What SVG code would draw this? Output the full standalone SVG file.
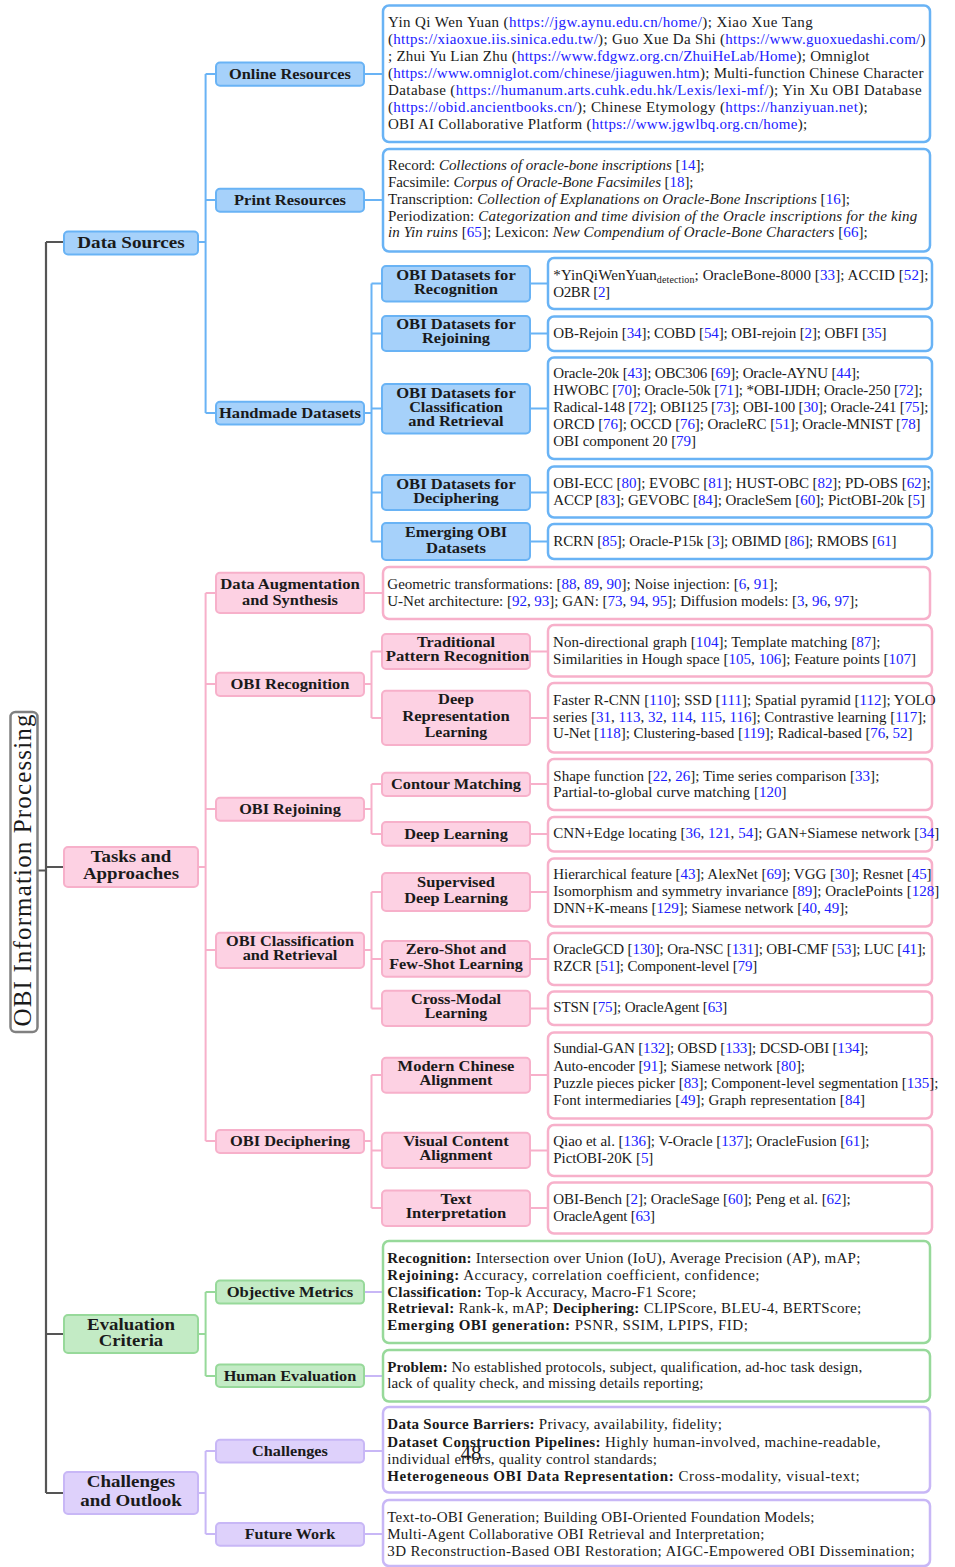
<svg xmlns="http://www.w3.org/2000/svg" width="955" height="1567" viewBox="0 0 955 1567">
<style>
text{font-family:"Liberation Serif","Times New Roman",serif;fill:#1a1a1a}
.lf{font-size:15px}
.u{fill:#2020ff}
.it{font-style:italic}
.bd{font-weight:bold}
.sb{font-size:10px}
.n1{font-size:17px;font-weight:bold;text-anchor:middle}
.n2{font-size:15px;font-weight:bold;text-anchor:middle}
.rt{font-size:25px;text-anchor:middle}
.pg{font-size:21px;text-anchor:middle}
.bN{fill:#a6d1fa;stroke:#69b3f5;stroke-width:2}
.bL{fill:#fff;stroke:#69b3f5;stroke-width:2.5}
.pN{fill:#fdd1e3;stroke:#f7b0ca;stroke-width:2}
.pL{fill:#fff;stroke:#f7b0ca;stroke-width:2.5}
.gN{fill:#c3ebc5;stroke:#97d99a;stroke-width:2}
.gL{fill:#fff;stroke:#97d99a;stroke-width:2.5}
.vN{fill:#ded1fb;stroke:#c8b7f6;stroke-width:2}
.vL{fill:#fff;stroke:#c8b7f6;stroke-width:2.5}
.cb{stroke:#69b3f5}
.cp{stroke:#f7b0ca}
.cg{stroke:#97d99a}
.cv{stroke:#c8b7f6}
</style>

<g id="connectors" fill="none" stroke-width="2">
<path stroke="#555" stroke-width="2.2" d="M37,870.5H46 M46,242V1493 M46,242H64 M46,867H64 M46,1334H64 M46,1493H64"/>
<path class="cb" d="M198,242H205.6 M205.6,74V413 M205.6,74H216 M205.6,200H216 M205.6,413H216 M364,74H383 M364,200H383 M364,413H371.5 M371.5,283.5V541.5 M371.5,283.5H382 M371.5,333.5H382 M371.5,408.5H382 M371.5,492.5H382 M371.5,541.5H382 M530,283.5H548 M530,333.5H548 M530,408.5H548 M530,492.5H548 M530,541.5H548"/>
<path class="cp" d="M198,867H205.6 M205.6,593V1141 M205.6,593H216 M205.6,684H216 M205.6,809H216 M205.6,950H216 M205.6,1141H216 M364,593H383 M364,684H371.5 M371.5,651.5V718 M371.5,651.5H382 M371.5,718H382 M530,651.5H548 M530,718H548 M364,809H371.5 M371.5,784V834 M371.5,784H382 M371.5,834H382 M530,784H548 M530,834H548 M364,950H371.5 M371.5,892V1008.5 M371.5,892H382 M371.5,959H382 M371.5,1008.5H382 M530,892H548 M530,959H548 M530,1008.5H548 M364,1141H371.5 M371.5,1075V1208 M371.5,1075H382 M371.5,1150.5H382 M371.5,1208H382 M530,1075H548 M530,1150.5H548 M530,1208H548"/>
<path class="cg" d="M198,1334H205.6 M205.6,1292V1376 M205.6,1292H216 M205.6,1376H216"/>
<path class="cv" d="M364,1292H383 M364,1376H383 M198,1493H205.6 M205.6,1451V1534 M205.6,1451H216 M205.6,1534H216 M364,1451H383 M364,1534H383"/>
</g>

<g id="root">
<rect x="10.5" y="712" width="27" height="320" rx="5" fill="#fff" stroke="#808080" stroke-width="2.5"/>
<text class="rt" transform="translate(24,870.5) rotate(-90)" y="7" textLength="312">OBI Information Processing</text>
</g>

<!-- Level 1 -->
<g id="data-sources"><rect class="bN" x="64" y="231.5" width="134" height="23" rx="4"/><text class="n1" x="131" y="248" textLength="107.5" lengthAdjust="spacingAndGlyphs">Data Sources</text></g>
<g id="tasks"><rect class="pN" x="64" y="847" width="134" height="40" rx="4"/><text class="n1" x="131" y="862" textLength="80.6" lengthAdjust="spacingAndGlyphs">Tasks and</text><text class="n1" x="131" y="879" textLength="96" lengthAdjust="spacingAndGlyphs">Approaches</text></g>
<g id="evaluation"><rect class="gN" x="64" y="1315" width="134" height="38" rx="4"/><text class="n1" x="131" y="1329.5" textLength="87.8" lengthAdjust="spacingAndGlyphs">Evaluation</text><text class="n1" x="131" y="1346" textLength="64.4" lengthAdjust="spacingAndGlyphs">Criteria</text></g>
<g id="challenges-outlook"><rect class="vN" x="64" y="1472" width="134" height="42" rx="4"/><text class="n1" x="131" y="1487" textLength="88.5" lengthAdjust="spacingAndGlyphs">Challenges</text><text class="n1" x="131" y="1506" textLength="101.6" lengthAdjust="spacingAndGlyphs">and Outlook</text></g>

<!-- Level 2 -->
<g id="online-resources"><rect class="bN" x="216" y="62.5" width="148" height="23.3" rx="4"/><text class="n2" x="290" y="79" textLength="122" lengthAdjust="spacingAndGlyphs">Online Resources</text></g>
<g id="print-resources"><rect class="bN" x="216" y="188.7" width="148" height="23" rx="4"/><text class="n2" x="290" y="205" textLength="112" lengthAdjust="spacingAndGlyphs">Print Resources</text></g>
<g id="handmade-datasets"><rect class="bN" x="216" y="401.8" width="148" height="22.6" rx="4"/><text class="n2" x="290" y="418" textLength="142" lengthAdjust="spacingAndGlyphs">Handmade Datasets</text></g>
<g id="data-augmentation"><rect class="pN" x="216" y="572.7" width="148" height="40.3" rx="4"/><text class="n2" x="290" y="588.5" textLength="139.5" lengthAdjust="spacingAndGlyphs">Data Augmentation</text><text class="n2" x="290" y="605" textLength="96" lengthAdjust="spacingAndGlyphs">and Synthesis</text></g>
<g id="obi-recognition"><rect class="pN" x="216" y="672.7" width="148" height="23.3" rx="4"/><text class="n2" x="290" y="689" textLength="119" lengthAdjust="spacingAndGlyphs">OBI Recognition</text></g>
<g id="obi-rejoining"><rect class="pN" x="216" y="797.7" width="148" height="23" rx="4"/><text class="n2" x="290" y="814" textLength="101.6" lengthAdjust="spacingAndGlyphs">OBI Rejoining</text></g>
<g id="obi-classification"><rect class="pN" x="216" y="932.7" width="148" height="35.3" rx="4"/><text class="n2" x="290" y="946" textLength="128" lengthAdjust="spacingAndGlyphs">OBI Classification</text><text class="n2" x="290" y="960" textLength="94.7" lengthAdjust="spacingAndGlyphs">and Retrieval</text></g>
<g id="obi-deciphering"><rect class="pN" x="216" y="1130" width="148" height="23" rx="4"/><text class="n2" x="290" y="1146" textLength="120" lengthAdjust="spacingAndGlyphs">OBI Deciphering</text></g>
<g id="objective-metrics"><rect class="gN" x="216" y="1280.6" width="148" height="23" rx="4"/><text class="n2" x="290" y="1297" textLength="126.7" lengthAdjust="spacingAndGlyphs">Objective Metrics</text></g>
<g id="human-evaluation"><rect class="gN" x="216" y="1364.4" width="148" height="22.6" rx="4"/><text class="n2" x="290" y="1381" textLength="132.6" lengthAdjust="spacingAndGlyphs">Human Evaluation</text></g>
<g id="challenges"><rect class="vN" x="216" y="1439.7" width="148" height="22.7" rx="4"/><text class="n2" x="290" y="1456" textLength="75.8" lengthAdjust="spacingAndGlyphs">Challenges</text></g>
<g id="future-work"><rect class="vN" x="216" y="1523" width="148" height="22.8" rx="4"/><text class="n2" x="290" y="1539" textLength="90.6" lengthAdjust="spacingAndGlyphs">Future Work</text></g>

<!-- Level 3 -->
<g id="ds-recognition"><rect class="bN" x="382" y="266" width="148" height="35.5" rx="4"/><text class="n2" x="456" y="280" textLength="119.5" lengthAdjust="spacingAndGlyphs">OBI Datasets for</text><text class="n2" x="456" y="294" textLength="84" lengthAdjust="spacingAndGlyphs">Recognition</text></g>
<g id="ds-rejoining"><rect class="bN" x="382" y="316" width="148" height="35" rx="4"/><text class="n2" x="456" y="329" textLength="119.5" lengthAdjust="spacingAndGlyphs">OBI Datasets for</text><text class="n2" x="456" y="343" textLength="68" lengthAdjust="spacingAndGlyphs">Rejoining</text></g>
<g id="ds-classification"><rect class="bN" x="382" y="384" width="148" height="49.5" rx="4"/><text class="n2" x="456" y="397.5" textLength="119.5" lengthAdjust="spacingAndGlyphs">OBI Datasets for</text><text class="n2" x="456" y="411.5" textLength="93.7" lengthAdjust="spacingAndGlyphs">Classification</text><text class="n2" x="456" y="425.5" textLength="95.4" lengthAdjust="spacingAndGlyphs">and Retrieval</text></g>
<g id="ds-deciphering"><rect class="bN" x="382" y="475" width="148" height="35" rx="4"/><text class="n2" x="456" y="488.5" textLength="119.5" lengthAdjust="spacingAndGlyphs">OBI Datasets for</text><text class="n2" x="456" y="502.5" textLength="85.4" lengthAdjust="spacingAndGlyphs">Deciphering</text></g>
<g id="ds-emerging"><rect class="bN" x="382" y="523" width="148" height="37" rx="4"/><text class="n2" x="456" y="536.5" textLength="102" lengthAdjust="spacingAndGlyphs">Emerging OBI</text><text class="n2" x="456" y="553" textLength="60" lengthAdjust="spacingAndGlyphs">Datasets</text></g>
<g id="rec-traditional"><rect class="pN" x="382" y="634" width="148" height="35" rx="4"/><text class="n2" x="456" y="647" textLength="78" lengthAdjust="spacingAndGlyphs">Traditional</text><text class="n2" x="457.5" y="661" textLength="143.6" lengthAdjust="spacingAndGlyphs">Pattern Recognition</text></g>
<g id="rec-deep"><rect class="pN" x="382" y="690.7" width="148" height="54.3" rx="4"/><text class="n2" x="456" y="704" textLength="35.8" lengthAdjust="spacingAndGlyphs">Deep</text><text class="n2" x="456" y="720.5" textLength="107.4" lengthAdjust="spacingAndGlyphs">Representation</text><text class="n2" x="456" y="737" textLength="62.3" lengthAdjust="spacingAndGlyphs">Learning</text></g>
<g id="rej-contour"><rect class="pN" x="382" y="772.7" width="148" height="23.3" rx="4"/><text class="n2" x="456" y="788.5" textLength="130" lengthAdjust="spacingAndGlyphs">Contour Matching</text></g>
<g id="rej-deep"><rect class="pN" x="382" y="822" width="148" height="23.7" rx="4"/><text class="n2" x="456" y="838.5" textLength="103.6" lengthAdjust="spacingAndGlyphs">Deep Learning</text></g>
<g id="cls-supervised"><rect class="pN" x="382" y="873" width="148" height="38" rx="4"/><text class="n2" x="456" y="886.5" textLength="77.8" lengthAdjust="spacingAndGlyphs">Supervised</text><text class="n2" x="456" y="903" textLength="103.6" lengthAdjust="spacingAndGlyphs">Deep Learning</text></g>
<g id="cls-zeroshot"><rect class="pN" x="382" y="941" width="148" height="35.7" rx="4"/><text class="n2" x="456" y="954" textLength="100.6" lengthAdjust="spacingAndGlyphs">Zero-Shot and</text><text class="n2" x="456" y="968.5" textLength="133.6" lengthAdjust="spacingAndGlyphs">Few-Shot Learning</text></g>
<g id="cls-crossmodal"><rect class="pN" x="382" y="990.7" width="148" height="35.3" rx="4"/><text class="n2" x="456" y="1004" textLength="90.2" lengthAdjust="spacingAndGlyphs">Cross-Modal</text><text class="n2" x="456" y="1018" textLength="62.3" lengthAdjust="spacingAndGlyphs">Learning</text></g>
<g id="dec-modern"><rect class="pN" x="382" y="1057.7" width="148" height="35" rx="4"/><text class="n2" x="456" y="1070.5" textLength="116.8" lengthAdjust="spacingAndGlyphs">Modern Chinese</text><text class="n2" x="456" y="1084.5" textLength="73" lengthAdjust="spacingAndGlyphs">Alignment</text></g>
<g id="dec-visual"><rect class="pN" x="382" y="1132.7" width="148" height="35.3" rx="4"/><text class="n2" x="456" y="1146" textLength="105.4" lengthAdjust="spacingAndGlyphs">Visual Content</text><text class="n2" x="456" y="1160" textLength="73" lengthAdjust="spacingAndGlyphs">Alignment</text></g>
<g id="dec-text"><rect class="pN" x="382" y="1190.6" width="148" height="35.3" rx="4"/><text class="n2" x="456" y="1204" textLength="31" lengthAdjust="spacingAndGlyphs">Text</text><text class="n2" x="456" y="1218" textLength="100.6" lengthAdjust="spacingAndGlyphs">Interpretation</text></g>

<!-- Leaves -->
<g id="leaf-online">
<rect class="bL" x="383" y="5.5" width="547" height="136.5" rx="6"/>
<text class="lf" x="388" y="27" textLength="424.7">Yin Qi Wen Yuan (<tspan class="u">https://jgw.aynu.edu.cn/home/</tspan>); Xiao Xue Tang</text>
<text class="lf" x="388" y="44" textLength="537.6">(<tspan class="u">https://xiaoxue.iis.sinica.edu.tw/</tspan>); Guo Xue Da Shi (<tspan class="u">https://www.guoxuedashi.com/</tspan>)</text>
<text class="lf" x="388" y="61" textLength="481.5">; Zhui Yu Lian Zhu (<tspan class="u">https://www.fdgwz.org.cn/ZhuiHeLab/Home</tspan>); Omniglot</text>
<text class="lf" x="388" y="78" textLength="535.5">(<tspan class="u">https://www.omniglot.com/chinese/jiaguwen.htm</tspan>); Multi-function Chinese Character</text>
<text class="lf" x="388" y="95" textLength="533.6">Database (<tspan class="u">https://humanum.arts.cuhk.edu.hk/Lexis/lexi-mf/</tspan>); Yin Xu OBI Database</text>
<text class="lf" x="388" y="112" textLength="479.7">(<tspan class="u">https://obid.ancientbooks.cn/</tspan>); Chinese Etymology (<tspan class="u">https://hanziyuan.net</tspan>);</text>
<text class="lf" x="388" y="129" textLength="419.2">OBI AI Collaborative Platform (<tspan class="u">https://www.jgwlbq.org.cn/home</tspan>);</text>
</g>
<g id="leaf-print">
<rect class="bL" x="383" y="149" width="547" height="102.5" rx="6"/>
<text class="lf" x="388" y="170" textLength="316.5">Record: <tspan class="it">Collections of oracle-bone inscriptions</tspan> [<tspan class="u">14</tspan>];</text>
<text class="lf" x="388" y="187" textLength="305.5">Facsimile: <tspan class="it">Corpus of Oracle-Bone Facsimiles</tspan> [<tspan class="u">18</tspan>];</text>
<text class="lf" x="388" y="204" textLength="462">Transcription: <tspan class="it">Collection of Explanations on Oracle-Bone Inscriptions</tspan> [<tspan class="u">16</tspan>];</text>
<text class="lf" x="388" y="220.5" textLength="529.2">Periodization: <tspan class="it">Categorization and time division of the Oracle inscriptions for the king</tspan></text>
<text class="lf" x="388" y="237" textLength="479.7"><tspan class="it">in Yin ruins</tspan> [<tspan class="u">65</tspan>]; Lexicon: <tspan class="it">New Compendium of Oracle-Bone Characters</tspan> [<tspan class="u">66</tspan>];</text>
</g>
<g id="leaf-ds-recognition">
<rect class="bL" x="548" y="258" width="384" height="51" rx="6"/>
<text class="lf" x="553.3" y="280" textLength="375">*YinQiWenYuan<tspan class="sb" dy="3">detection</tspan><tspan dy="-3">; OracleBone-8000 [</tspan><tspan class="u">33</tspan>]; ACCID [<tspan class="u">52</tspan>];</text>
<text class="lf" x="553.3" y="296.5" textLength="56.7">O2BR [<tspan class="u">2</tspan>]</text>
</g>
<g id="leaf-ds-rejoining">
<rect class="bL" x="548" y="316.5" width="384" height="34.5" rx="6"/>
<text class="lf" x="553.3" y="337.5" textLength="333.3">OB-Rejoin [<tspan class="u">34</tspan>]; COBD [<tspan class="u">54</tspan>]; OBI-rejoin [<tspan class="u">2</tspan>]; OBFI [<tspan class="u">35</tspan>]</text>
</g>
<g id="leaf-ds-classification">
<rect class="bL" x="548" y="357.5" width="384" height="101.5" rx="6"/>
<text class="lf" x="553.3" y="378" textLength="306.7">Oracle-20k [<tspan class="u">43</tspan>]; OBC306 [<tspan class="u">69</tspan>]; Oracle-AYNU [<tspan class="u">44</tspan>];</text>
<text class="lf" x="553.3" y="395" textLength="369.3">HWOBC [<tspan class="u">70</tspan>]; Oracle-50k [<tspan class="u">71</tspan>]; *OBI-IJDH; Oracle-250 [<tspan class="u">72</tspan>];</text>
<text class="lf" x="553.3" y="412" textLength="375">Radical-148 [<tspan class="u">72</tspan>]; OBI125 [<tspan class="u">73</tspan>]; OBI-100 [<tspan class="u">30</tspan>]; Oracle-241 [<tspan class="u">75</tspan>];</text>
<text class="lf" x="553.3" y="429" textLength="367.3">ORCD [<tspan class="u">76</tspan>]; OCCD [<tspan class="u">76</tspan>]; OracleRC [<tspan class="u">51</tspan>]; Oracle-MNIST [<tspan class="u">78</tspan>]</text>
<text class="lf" x="553.3" y="446" textLength="142.7">OBI component 20 [<tspan class="u">79</tspan>]</text>
</g>
<g id="leaf-ds-deciphering">
<rect class="bL" x="548" y="466.5" width="384" height="51" rx="6"/>
<text class="lf" x="553.3" y="487.5" textLength="377.3">OBI-ECC [<tspan class="u">80</tspan>]; EVOBC [<tspan class="u">81</tspan>]; HUST-OBC [<tspan class="u">82</tspan>]; PD-OBS [<tspan class="u">62</tspan>];</text>
<text class="lf" x="553.3" y="504.5" textLength="371.7">ACCP [<tspan class="u">83</tspan>]; GEVOBC [<tspan class="u">84</tspan>]; OracleSem [<tspan class="u">60</tspan>]; PictOBI-20k [<tspan class="u">5</tspan>]</text>
</g>
<g id="leaf-ds-emerging">
<rect class="bL" x="548" y="524" width="384" height="35" rx="6"/>
<text class="lf" x="553.3" y="546" textLength="343.3">RCRN [<tspan class="u">85</tspan>]; Oracle-P15k [<tspan class="u">3</tspan>]; OBIMD [<tspan class="u">86</tspan>]; RMOBS [<tspan class="u">61</tspan>]</text>
</g>
<g id="leaf-augmentation">
<rect class="pL" x="383" y="567" width="547" height="52" rx="6"/>
<text class="lf" x="387.3" y="589" textLength="390.6">Geometric transformations: [<tspan class="u">88</tspan>, <tspan class="u">89</tspan>, <tspan class="u">90</tspan>]; Noise injection: [<tspan class="u">6</tspan>, <tspan class="u">91</tspan>];</text>
<text class="lf" x="387.3" y="605.5" textLength="471.2">U-Net architecture: [<tspan class="u">92</tspan>, <tspan class="u">93</tspan>]; GAN: [<tspan class="u">73</tspan>, <tspan class="u">94</tspan>, <tspan class="u">95</tspan>]; Diffusion models: [<tspan class="u">3</tspan>, <tspan class="u">96</tspan>, <tspan class="u">97</tspan>];</text>
</g>
<g id="leaf-rec-traditional">
<rect class="pL" x="548" y="625" width="384" height="51.5" rx="6"/>
<text class="lf" x="553.1" y="646.5" textLength="327.4">Non-directional graph [<tspan class="u">104</tspan>]; Template matching [<tspan class="u">87</tspan>];</text>
<text class="lf" x="553.1" y="663.5" textLength="363">Similarities in Hough space [<tspan class="u">105</tspan>, <tspan class="u">106</tspan>]; Feature points [<tspan class="u">107</tspan>]</text>
</g>
<g id="leaf-rec-deep">
<rect class="pL" x="548" y="683" width="384" height="69.5" rx="6"/>
<text class="lf" x="553.1" y="705" textLength="382.5">Faster R-CNN [<tspan class="u">110</tspan>]; SSD [<tspan class="u">111</tspan>]; Spatial pyramid [<tspan class="u">112</tspan>]; YOLO</text>
<text class="lf" x="553.1" y="721.5" textLength="373.3">series [<tspan class="u">31</tspan>, <tspan class="u">113</tspan>, <tspan class="u">32</tspan>, <tspan class="u">114</tspan>, <tspan class="u">115</tspan>, <tspan class="u">116</tspan>]; Contrastive learning [<tspan class="u">117</tspan>];</text>
<text class="lf" x="553.1" y="738" textLength="359.4">U-Net [<tspan class="u">118</tspan>]; Clustering-based [<tspan class="u">119</tspan>]; Radical-based [<tspan class="u">76</tspan>, <tspan class="u">52</tspan>]</text>
</g>
<g id="leaf-rej-contour">
<rect class="pL" x="548" y="759" width="384" height="51" rx="6"/>
<text class="lf" x="553.3" y="780.5" textLength="326">Shape function [<tspan class="u">22</tspan>, <tspan class="u">26</tspan>]; Time series comparison [<tspan class="u">33</tspan>];</text>
<text class="lf" x="553.3" y="797" textLength="233.3">Partial-to-global curve matching [<tspan class="u">120</tspan>]</text>
</g>
<g id="leaf-rej-deep">
<rect class="pL" x="548" y="817" width="384" height="34.5" rx="6"/>
<text class="lf" x="553.3" y="838" textLength="386">CNN+Edge locating [<tspan class="u">36</tspan>, <tspan class="u">121</tspan>, <tspan class="u">54</tspan>]; GAN+Siamese network [<tspan class="u">34</tspan>]</text>
</g>
<g id="leaf-cls-supervised">
<rect class="pL" x="548" y="858.5" width="384" height="68" rx="6"/>
<text class="lf" x="553.3" y="879" textLength="378.3">Hierarchical feature [<tspan class="u">43</tspan>]; AlexNet [<tspan class="u">69</tspan>]; VGG [<tspan class="u">30</tspan>]; Resnet [<tspan class="u">45</tspan>]</text>
<text class="lf" x="553.3" y="896" textLength="386">Isomorphism and symmetry invariance [<tspan class="u">89</tspan>]; OraclePoints [<tspan class="u">128</tspan>]</text>
<text class="lf" x="553.3" y="913" textLength="295">DNN+K-means [<tspan class="u">129</tspan>]; Siamese network [<tspan class="u">40</tspan>, <tspan class="u">49</tspan>];</text>
</g>
<g id="leaf-cls-zeroshot">
<rect class="pL" x="548" y="933" width="384" height="52" rx="6"/>
<text class="lf" x="553.3" y="954" textLength="372.7">OracleGCD [<tspan class="u">130</tspan>]; Ora-NSC [<tspan class="u">131</tspan>]; OBI-CMF [<tspan class="u">53</tspan>]; LUC [<tspan class="u">41</tspan>];</text>
<text class="lf" x="553.3" y="971" textLength="204">RZCR [<tspan class="u">51</tspan>]; Component-level [<tspan class="u">79</tspan>]</text>
</g>
<g id="leaf-cls-crossmodal">
<rect class="pL" x="548" y="991.5" width="384" height="33.5" rx="6"/>
<text class="lf" x="553.3" y="1012" textLength="174">STSN [<tspan class="u">75</tspan>]; OracleAgent [<tspan class="u">63</tspan>]</text>
</g>
<g id="leaf-dec-modern">
<rect class="pL" x="548" y="1032.5" width="384" height="86" rx="6"/>
<text class="lf" x="553.3" y="1053" textLength="315">Sundial-GAN [<tspan class="u">132</tspan>]; OBSD [<tspan class="u">133</tspan>]; DCSD-OBI [<tspan class="u">134</tspan>];</text>
<text class="lf" x="553.3" y="1070.5" textLength="251.7">Auto-encoder [<tspan class="u">91</tspan>]; Siamese network [<tspan class="u">80</tspan>];</text>
<text class="lf" x="553.3" y="1087.5" textLength="385">Puzzle pieces picker [<tspan class="u">83</tspan>]; Component-level segmentation [<tspan class="u">135</tspan>];</text>
<text class="lf" x="553.3" y="1104.5" textLength="311.7">Font intermediaries [<tspan class="u">49</tspan>]; Graph representation [<tspan class="u">84</tspan>]</text>
</g>
<g id="leaf-dec-visual">
<rect class="pL" x="548" y="1125" width="384" height="51" rx="6"/>
<text class="lf" x="553.3" y="1145.5" textLength="316">Qiao et al. [<tspan class="u">136</tspan>]; V-Oracle [<tspan class="u">137</tspan>]; OracleFusion [<tspan class="u">61</tspan>];</text>
<text class="lf" x="553.3" y="1162.5" textLength="100">PictOBI-20K [<tspan class="u">5</tspan>]</text>
</g>
<g id="leaf-dec-text">
<rect class="pL" x="548" y="1182.5" width="384" height="51" rx="6"/>
<text class="lf" x="553.3" y="1204" textLength="297.3">OBI-Bench [<tspan class="u">2</tspan>]; OracleSage [<tspan class="u">60</tspan>]; Peng et al. [<tspan class="u">62</tspan>];</text>
<text class="lf" x="553.3" y="1221" textLength="101.7">OracleAgent [<tspan class="u">63</tspan>]</text>
</g>
<g id="leaf-objective">
<rect class="gL" x="383" y="1241" width="547" height="102" rx="6"/>
<text class="lf" x="387.3" y="1263" textLength="473"><tspan class="bd">Recognition:</tspan> Intersection over Union (IoU), Average Precision (AP), mAP;</text>
<text class="lf" x="387.3" y="1280" textLength="372.2"><tspan class="bd">Rejoining:</tspan> Accuracy, correlation coefficient, confidence;</text>
<text class="lf" x="387.3" y="1296.5" textLength="308.8"><tspan class="bd">Classification:</tspan> Top-k Accuracy, Macro-F1 Score;</text>
<text class="lf" x="387.3" y="1313" textLength="473.8"><tspan class="bd">Retrieval:</tspan> Rank-k, mAP; <tspan class="bd">Deciphering:</tspan> CLIPScore, BLEU-4, BERTScore;</text>
<text class="lf" x="387.3" y="1330" textLength="360.5"><tspan class="bd">Emerging OBI generation:</tspan> PSNR, SSIM, LPIPS, FID;</text>
</g>
<g id="leaf-human">
<rect class="gL" x="383" y="1350" width="547" height="51.5" rx="6"/>
<text class="lf" x="387.3" y="1371.5" textLength="474.9"><tspan class="bd">Problem:</tspan> No established protocols, subject, qualification, ad-hoc task design,</text>
<text class="lf" x="387.3" y="1388" textLength="316.1">lack of quality check, and missing details reporting;</text>
</g>
<g id="leaf-challenges">
<rect class="vL" x="383" y="1407" width="547" height="85.5" rx="6"/>
<text class="lf" x="387.3" y="1429" textLength="334.5"><tspan class="bd">Data Source Barriers:</tspan> Privacy, availability, fidelity;</text>
<text class="lf" x="387.3" y="1446.5" textLength="493.2"><tspan class="bd">Dataset Construction Pipelines:</tspan> Highly human-involved, machine-readable,</text>
<text class="lf" x="387.3" y="1464" textLength="269.6">individual errors, quality control standards;</text>
<text class="lf" x="387.3" y="1481" textLength="472.3"><tspan class="bd">Heterogeneous OBI Data Representation:</tspan> Cross-modality, visual-text;</text>
</g>
<g id="leaf-future">
<rect class="vL" x="383" y="1500" width="547" height="66" rx="6"/>
<text class="lf" x="387.3" y="1522" textLength="427.2">Text-to-OBI Generation; Building OBI-Oriented Foundation Models;</text>
<text class="lf" x="387.3" y="1539" textLength="377">Multi-Agent Collaborative OBI Retrieval and Interpretation;</text>
<text class="lf" x="387.3" y="1555.5" textLength="527.3">3D Reconstruction-Based OBI Restoration; AIGC-Empowered OBI Dissemination;</text>
</g>

<text class="pg" x="471" y="1460">48</text>
</svg>
